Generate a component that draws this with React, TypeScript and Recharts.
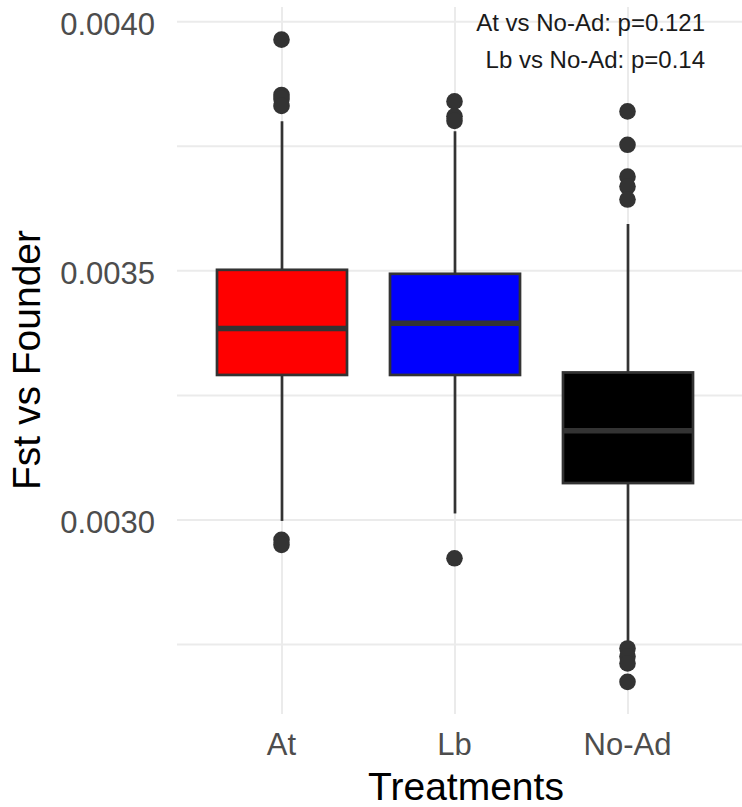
import {
  Bar,
  CartesianGrid,
  ComposedChart,
  Customized,
  Scatter,
  XAxis,
  YAxis,
} from "recharts";

const categories = ["At", "Lb", "No-Ad"];
const boxFills = ["#FF0000", "#0000FF", "#000000"];

// five-number summaries
const whiskerLow = [0.002998, 0.003013, 0.002753];
const q1 = [0.003291, 0.003291, 0.003074];
const median = [0.003384, 0.003395, 0.003179];
const q3 = [0.003502, 0.003494, 0.003296];
const whiskerHigh = [0.0038, 0.00378, 0.003594];

const outliersAt = [0.003964, 0.003853, 0.003845, 0.003831, 0.00296, 0.00295];
const outliersLb = [0.00384, 0.00381, 0.003801, 0.002923];
const outliersNoAd = [
  0.00382, 0.003753, 0.003689, 0.003669, 0.003643, 0.002742, 0.002726, 0.002712,
  0.002675,
];

const yTicks = [0.003, 0.0035, 0.004];
const yMinor = [0.00275, 0.00325, 0.00375];
const yDomain = [0.0026105, 0.0040295];
const pLabels = ["At vs No-Ad: p=0.121", "Lb vs No-Ad: p=0.14"];

const FONT = "'Liberation Sans', Arial, Helvetica, sans-serif";
const INK = "#333333";
const GRID = "#EBEBEB";

const boxes = categories.map((cat, i) => ({
  cat,
  range: [whiskerLow[i], whiskerHigh[i]],
  lo: whiskerLow[i],
  q1: q1[i],
  med: median[i],
  q3: q3[i],
  hi: whiskerHigh[i],
  fill: boxFills[i],
}));

const outliers = [
  ...outliersAt.map((value) => ({ cat: "At", value })),
  ...outliersLb.map((value) => ({ cat: "Lb", value })),
  ...outliersNoAd.map((value) => ({ cat: "No-Ad", value })),
];

// Bar spans whisker low..high; box and median placed inside that span.
function BoxShape(props: any) {
  const { x, y, width, height } = props;
  const d = props.payload ?? props;
  const top = Math.min(y, y + height);
  const bottom = Math.max(y, y + height);
  const py = (v: number) => top + ((d.hi - v) / (d.hi - d.lo)) * (bottom - top);
  const cx = x + width / 2;
  const yq3 = py(d.q3);
  const yq1 = py(d.q1);
  const ym = py(d.med);
  return (
    <g>
      <line x1={cx} x2={cx} y1={top} y2={yq3} stroke={INK} strokeWidth={2.7} />
      <line x1={cx} x2={cx} y1={yq1} y2={bottom} stroke={INK} strokeWidth={2.7} />
      <rect
        x={x}
        y={yq3}
        width={width}
        height={yq1 - yq3}
        fill={d.fill}
        stroke={INK}
        strokeWidth={2.7}
      />
      <line x1={x} x2={x + width} y1={ym} y2={ym} stroke={INK} strokeWidth={5.5} />
    </g>
  );
}

// vertical grid line per category, drawn as the bar background
function ColumnLine(props: any) {
  const cx = props.x + props.width / 2;
  return (
    <line x1={cx} x2={cx} y1={props.y} y2={props.y + props.height} stroke={GRID} strokeWidth={2} />
  );
}

function OutlierDot(props: any) {
  if (props.cx == null || props.cy == null) return null;
  return <circle cx={props.cx} cy={props.cy} r={8.3} fill={INK} />;
}

// major + minor horizontal grid rows within the plot area
function gridRows({ offset }: any) {
  if (!offset) return [];
  const [lo, hi] = yDomain;
  return [...yMinor, ...yTicks].map(
    (v) => offset.top + ((hi - v) / (hi - lo)) * offset.height
  );
}

function Annotations() {
  return (
    <g style={{ fontFamily: FONT }}>
      {pLabels.map((t, i) => (
        <text key={t} x={705} y={31 + i * 37} textAnchor="end" fontSize={24} fill="#1A1A1A">
          {t}
        </text>
      ))}
      <text
        transform="translate(40,360) rotate(-90)"
        textAnchor="middle"
        fontSize={39}
        fill="#000"
      >
        Fst vs Founder
      </text>
      <text x={466} y={800} textAnchor="middle" fontSize={39} fill="#000">
        Treatments
      </text>
    </g>
  );
}

export default function App() {
  return (
    <div style={{ position: "absolute", left: 0, top: 0, background: "#fff", fontFamily: FONT }}>
      <ComposedChart
        width={742}
        height={807}
        data={boxes}
        margin={{ top: 7, right: 0, bottom: 0, left: 0 }}
      >
        <CartesianGrid
          stroke={GRID}
          strokeWidth={2}
          vertical={false}
          horizontalCoordinatesGenerator={gridRows}
        />
        <XAxis
          dataKey="cat"
          type="category"
          allowDuplicatedCategory={false}
          interval={0}
          height={93}
          padding={{ left: 18, right: 28 }}
          axisLine={false}
          tickLine={false}
          tickSize={0}
          tickMargin={19}
          tick={{ fontSize: 31, fill: "#4D4D4D", fontFamily: FONT }}
        />
        <YAxis
          type="number"
          domain={yDomain}
          ticks={yTicks}
          allowDataOverflow
          width={177}
          axisLine={false}
          tickLine={false}
          tickSize={0}
          tickMargin={22}
          tickFormatter={(v: number) => v.toFixed(4)}
          tick={{ fontSize: 31, fill: "#4D4D4D", fontFamily: FONT, dy: 2 }}
        />
        <Bar
          dataKey="range"
          barSize={130}
          shape={BoxShape}
          background={ColumnLine}
          isAnimationActive={false}
        />
        <Scatter
          data={outliers}
          dataKey="value"
          shape={OutlierDot}
          isAnimationActive={false}
        />
        <Customized component={Annotations} />
      </ComposedChart>
    </div>
  );
}
